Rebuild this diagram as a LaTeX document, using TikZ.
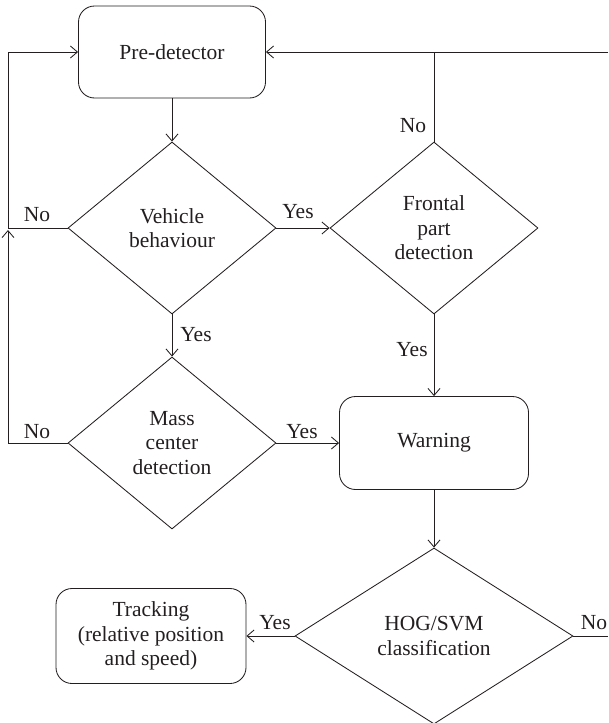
\documentclass[tikz,border=0pt]{standalone}
\usepackage{fontspec}
\setmainfont{Liberation Serif}
\usetikzlibrary{shapes.geometric,arrows.meta}
\definecolor{ink}{HTML}{231F20}
\begin{document}
\begin{tikzpicture}[x=1pt,y=-1pt,
  every node/.style={font=\fontsize{21.5}{24.5}\selectfont, text=ink},
  line/.style={draw=ink,line width=0.85pt},
  arr/.style={line, -{Straight Barb[length=7pt,width=12pt,line width=0.85pt]}},
  box/.style={draw=ink,line width=0.85pt,rounded corners=16pt,minimum width=187pt,minimum height=92pt,align=center,inner sep=0pt},
  dec/.style={draw=ink,line width=0.85pt,diamond,minimum width=208pt,minimum height=172pt,align=center,inner sep=0pt},
  lbl/.style={inner sep=0pt}]
\useasboundingbox (0,0) rectangle (608,723);

\node[box] (pre) at (172,52) {Pre-detector};
\node[dec] (veh) at (172,228) {Vehicle\\behaviour};
\node[dec] (fro) at (434,228) {Frontal\\part\\detection};
\node[dec] (mass) at (172,443) {Mass\\center\\detection};
\node[box, minimum width=189pt, minimum height=93pt] (warn) at (434,443) {Warning};
\node[dec, minimum width=278pt, minimum height=176pt] (hog) at (434,636) {HOG/SVM\\classification};
\node[box, minimum width=190pt, minimum height=95pt] (track) at (151,636) {Tracking\\(relative position\\and speed)};

\coordinate (tr) at (608,52);
\coordinate (tj) at (434,52);
\coordinate (lt) at (8,52);
\coordinate (lv) at (8,228);
\coordinate (lm) at (8,443);
\coordinate (la) at (8,230);
\coordinate (hr) at (608,636);

\draw[arr] (pre) -- (veh.north);
\draw[arr] (veh.east) -- (fro.west);
\draw[arr] (veh.south) -- (mass.north);
\draw[arr] (fro.south) -- (warn.north);
\draw[arr] (mass.east) -- (warn.west);
\draw[arr] (warn.south) -- (hog.north);
\draw[arr] (hog.west) -- (track.east);
\draw[line] (hog.east) -- (hr);
\draw[arr] (tr) -- (pre.east);
\draw[line] (fro.north) -- (tj);
\draw[arr] (veh.west) -- (lv) -- (lt) -- (pre.west);
\draw[arr] (mass.west) -- (lm) -- (la);

\node[lbl] (l1) at (37,215) {No};
\node[lbl] (l2) at (37,432) {No};
\node[lbl] (l3) at (298,212) {Yes};
\node[lbl] (l4) at (196,335) {Yes};
\node[lbl] (l5) at (302,432) {Yes};
\node[lbl] (l6) at (412,350) {Yes};
\node[lbl] (l7) at (413,126) {No};
\node[lbl] (l8) at (275,623) {Yes};
\node[lbl] (l9) at (594,623) {No};
\end{tikzpicture}
\end{document}
